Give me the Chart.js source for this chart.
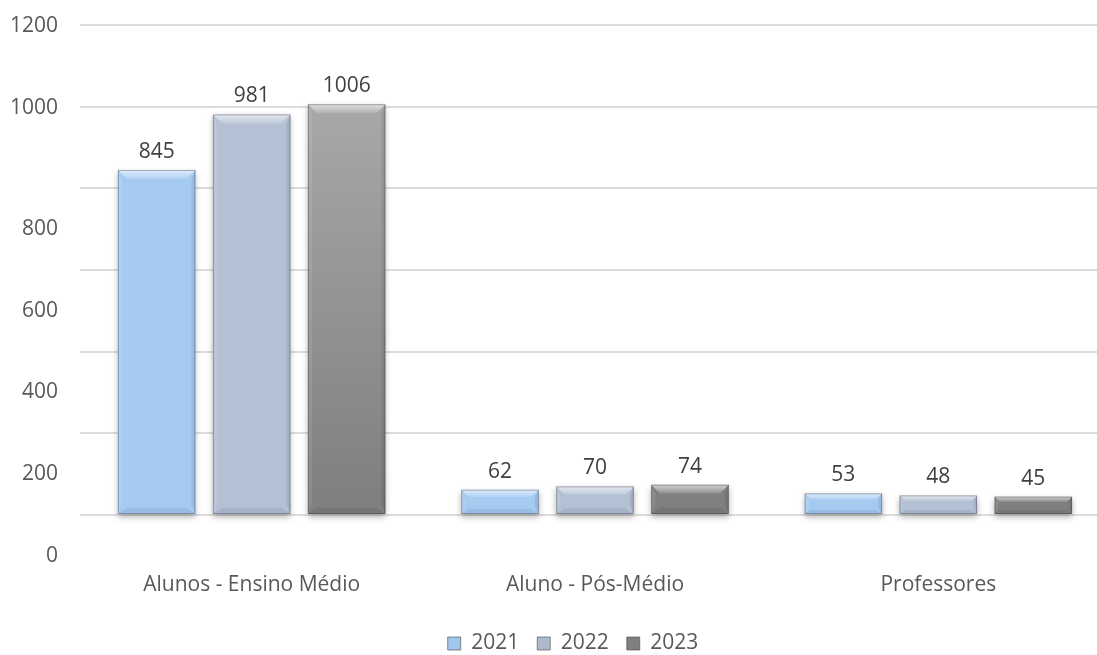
<!DOCTYPE html>
<html><head><meta charset="utf-8">
<script src="https://cdn.jsdelivr.net/npm/chart.js@4.4.1/dist/chart.umd.min.js"></script>
<style>
html,body{margin:0;padding:0;background:#fff;overflow:hidden;}
#wrap{position:relative;width:1112px;height:664px;}
canvas{display:block;}
</style></head><body>
<div id="wrap"><canvas id="c" width="1112" height="664"></canvas></div>
<script>
const categories = ['Alunos - Ensino Médio', 'Aluno - Pós-Médio', 'Professores'];
const seriesNames = ['2021', '2022', '2023'];
const values2021 = [845, 62, 53];
const values2022 = [981, 70, 48];
const values2023 = [1006, 74, 45];
const yTickValues = [0, 200, 400, 600, 800, 1000, 1200];
const yTickLabels = ['0', '200', '400', '600', '800', '1000', '1200'];

const FONT = '"Open Sans", "Noto Sans", sans-serif';
const faceColors = ['#A6CBF1', '#B4C1D5', '#8E8E8E'];
const legendColors = ['#A2C6EC', '#ADB9CC', '#808080'];

function face(i) {
  return function (ctx) {
    if (i !== 2) return faceColors[i];
    const ca = ctx.chart.chartArea;
    if (!ca) return faceColors[i];
    const g = ctx.chart.ctx.createLinearGradient(0, ca.top, 0, ca.bottom);
    g.addColorStop(0, '#B0B0B0');
    g.addColorStop(1, '#7E7E7E');
    return g;
  };
}

function poly(c, pts, fill) {
  c.beginPath();
  c.moveTo(pts[0][0], pts[0][1]);
  for (let k = 1; k < pts.length; k++) c.lineTo(pts[k][0], pts[k][1]);
  c.closePath();
  c.fillStyle = fill;
  c.fill();
}

const bevelPlugin = {
  id: 'bevel',
  beforeDatasetsDraw(chart) {
    const c = chart.ctx;
    c.save();
    c.shadowColor = 'rgba(0,0,0,0.30)';
    c.shadowBlur = 6;
    c.shadowOffsetX = 0;
    c.shadowOffsetY = 3;
  },
  afterDatasetsDraw(chart) {
    const c = chart.ctx;
    c.restore();
    c.save();
    chart.data.datasets.forEach((ds, di) => {
      const meta = chart.getDatasetMeta(di);
      meta.data.forEach((el, j) => {
        const L = el.x - el.width / 2, R = el.x + el.width / 2, T = el.y, B = el.base;
        const h = B - T;
        const b = Math.min(9, h * 0.3);
        const s = Math.min(4, h * 0.2);
        const gt = c.createLinearGradient(0, T, 0, T + b);
        gt.addColorStop(0, 'rgba(255,255,255,0.65)');
        gt.addColorStop(1, 'rgba(255,255,255,0.12)');
        poly(c, [[L, T], [R, T], [R - b, T + b], [L + b, T + b]], gt);
        poly(c, [[L, T], [L + s, T + b], [L + s, B - b], [L, B]], 'rgba(255,255,255,0.10)');
        poly(c, [[R, T], [R, B], [R - s, B - b], [R - s, T + b]], 'rgba(0,0,0,0.08)');
        poly(c, [[L, B], [L + b, B - b * 0.7], [R - b, B - b * 0.7], [R, B]], 'rgba(0,0,0,0.07)');
        c.strokeStyle = 'rgba(50,50,60,0.35)';
        c.lineWidth = 1;
        c.strokeRect(L + 0.5, T + 0.5, R - L - 1, B - T - 1);
        // data label
        c.fillStyle = '#404040';
        c.font = '21px ' + FONT;
        c.textAlign = 'center';
        c.textBaseline = 'alphabetic';
        c.fillText(String(ds.data[j]), el.x, T - 12);
      });
    });
    c.restore();
  }
};

const yLabelPlugin = {
  id: 'yLabels',
  afterDraw(chart) {
    const s = chart.scales.y;
    const c = chart.ctx;
    c.save();
    c.font = '21px ' + FONT;
    c.fillStyle = '#595959';
    c.textAlign = 'right';
    c.textBaseline = 'middle';
    const half = (s.getPixelForValue(0) - s.getPixelForValue(200)) / 2;
    yTickValues.forEach((v, i) => {
      const shift = v <= 800 ? half * 0.97 : 0;
      c.fillText(yTickLabels[i], chart.chartArea.left - 22, s.getPixelForValue(v) + shift + 1);
    });
    c.restore();
  }
};

new Chart(document.getElementById('c'), {
  type: 'bar',
  data: {
    labels: categories,
    datasets: [
      { label: seriesNames[0], data: values2021, backgroundColor: face(0), borderWidth: 0, clip: false },
      { label: seriesNames[1], data: values2022, backgroundColor: face(1), borderWidth: 0, clip: false },
      { label: seriesNames[2], data: values2023, backgroundColor: face(2), borderWidth: 0, clip: false }
    ]
  },
  options: {
    responsive: false,
    animation: false,
    devicePixelRatio: 1,
    categoryPercentage: 0.83,
    barPercentage: 0.816,
    layout: { padding: { left: 36, right: 2, top: 25, bottom: 0 } },
    plugins: {
      tooltip: { enabled: false },
      legend: {
        position: 'bottom',
        labels: {
          boxWidth: 13,
          boxHeight: 13,
          padding: 18,
          color: '#595959',
          font: { family: FONT, size: 21 },
          generateLabels(chart) {
            return chart.data.datasets.map((ds, i) => ({
              text: ds.label,
              fillStyle: legendColors[i],
              strokeStyle: 'rgba(70,70,70,0.6)',
              lineWidth: 1,
              hidden: false,
              datasetIndex: i,
              fontColor: '#595959'
            }));
          }
        }
      }
    },
    scales: {
      x: {
        grid: { display: false, drawTicks: false },
        border: { display: false },
        ticks: { padding: 57, color: '#595959', font: { family: FONT, size: 21 } },
        afterFit(s) { s.height = 100; }
      },
      y: {
        min: 0,
        max: 1200,
        afterBuildTicks(s) { s.ticks = yTickValues.map(v => ({ value: v })); },
        grid: { color: '#DCDCDC', lineWidth: 2, drawTicks: false },
        border: { display: false },
        ticks: { display: false },
        afterFit(s) { s.width = 44; }
      }
    }
  },
  plugins: [bevelPlugin, yLabelPlugin]
});
</script>
</body></html>
